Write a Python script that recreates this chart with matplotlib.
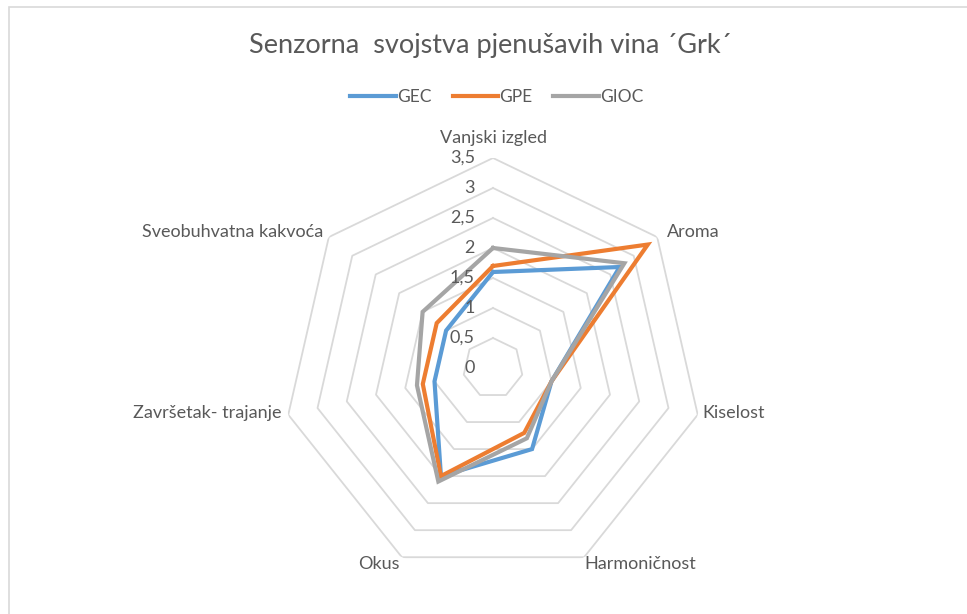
import numpy as np
import matplotlib.pyplot as plt
from matplotlib.patches import Rectangle

# podaci
kategorije = ["Vanjski izgled", "Aroma", "Kiselost", "Harmoničnost",
              "Okus", "Završetak- trajanje", "Sveobuhvatna kakvoća"]
gec = [1.6, 2.7, 1.0, 1.5, 2.0, 1.0, 1.0]
gpe = [1.7, 3.3, 1.0, 1.2, 2.0, 1.2, 1.2]
gioc = [2.0, 2.8, 1.0, 1.3, 2.1, 1.3, 1.5]
r_ticks = [0, 0.5, 1, 1.5, 2, 2.5, 3, 3.5]
r_tick_labels = ["0", "0,5", "1", "1,5", "2", "2,5", "3", "3,5"]

serije = [("GEC", gec, "#5B9BD5"), ("GPE", gpe, "#ED7D31"), ("GIOC", gioc, "#A5A5A5")]

plt.rcParams['font.family'] = ['Lato', 'DejaVu Sans']
tekst = "#595959"

W, H = 967, 614
fig = plt.figure(figsize=(W / 100, H / 100), dpi=100)

# okvir grafikona
fig.patches.append(Rectangle((8.5 / W, -0.1), 1.2, 1.1 - 7.5 / H,
                             transform=fig.transFigure, fill=False,
                             edgecolor="#d9d9d9", linewidth=1.2))

cx, cy, R = 493, 368, 210
ax = fig.add_axes([(cx - R) / W, (H - cy - R) / H, 2 * R / W, 2 * R / H], polar=True)
ax.set_theta_offset(np.pi / 2)
ax.set_theta_direction(-1)
ax.set_ylim(0, 3.5)
ax.grid(False)
ax.spines['polar'].set_visible(False)
ax.set_xticks([])
ax.set_yticks([])
ax.patch.set_alpha(0)

n = len(kategorije)
kutovi = np.linspace(0, 2 * np.pi, n, endpoint=False)
kz = np.append(kutovi, kutovi[0])

# mreža u obliku sedmerokuta
for r in r_ticks[1:]:
    ax.plot(kz, [r] * (n + 1), color="#d9d9d9", lw=1.3, zorder=1)

for r, lab in zip(r_ticks, r_tick_labels):
    ax.annotate(lab, (0, r), xytext=(-13, 0), textcoords="offset points",
                ha="right", va="center", fontsize=13, color=tekst, zorder=5)

# serije
for ime, vals, boja in serije:
    ax.plot(kz, list(vals) + [vals[0]], color=boja, lw=3.0, label=ime,
            solid_joinstyle="miter", zorder=3)

# nazivi kategorija
pomaci = [(0, 9, "center", "bottom"), (7, 3.6, "left", "center"),
          (3.6, 1.5, "left", "center"), (0, -5, "left", "center"),
          (-1.5, -5, "right", "center"), (-5, 1.5, "right", "center"),
          (-4.3, 3.6, "right", "center")]
for kut, lab, (dx, dy, ha, va) in zip(kutovi, kategorije, pomaci):
    ax.annotate(lab, (kut, 3.5), xytext=(dx, dy), textcoords="offset points",
                ha=ha, va=va, fontsize=13, color=tekst, annotation_clip=False)

fig.text(0.507, 1 - 45 / H, "Senzorna  svojstva pjenušavih vina ´Grk´",
         ha="center", va="center", fontsize=19.5, color=tekst)

fig.legend(loc="center", bbox_to_anchor=(0.514, 1 - 97 / H), ncol=3, frameon=False,
           fontsize=12.5, labelcolor=tekst, handlelength=2.6, handletextpad=0.1,
           columnspacing=1.2)

fig.savefig("out.png", dpi=100)
